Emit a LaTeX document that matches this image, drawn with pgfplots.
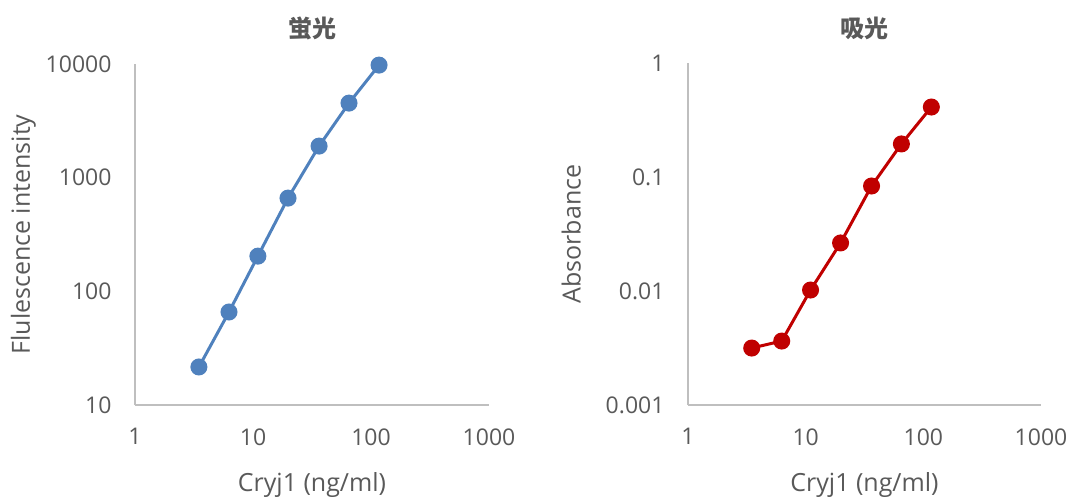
\documentclass[border=0pt]{standalone}
\usepackage{pgfplots}
\pgfplotsset{compat=1.18}
\usepackage{fontspec}
\setmainfont{Open Sans}
\newfontfamily\cjk{Noto Sans CJK JP}
\definecolor{txt}{HTML}{595959}
\definecolor{axl}{HTML}{BFBFBF}
\definecolor{blu}{HTML}{4F81BD}
\definecolor{rd}{HTML}{C00000}
\begin{document}
\begin{tikzpicture}
\useasboundingbox (0pt,0pt) rectangle (1069pt,499pt);
\begin{axis}[xmode=log, ymode=log,
    scale only axis,
    width=354pt, height=341pt,
    xmin=1, xmax=1000,
    axis x line*=bottom, axis y line*=left,
    axis line style={axl, line width=1.3pt},
    major tick length=0pt, minor tick length=0pt,
    minor tick style={draw=none}, major tick style={draw=none},
    xtick={1,10,100,1000},
    xticklabels={1,10,100,1000},
    tick label style={font=\fontsize{23}{26}\selectfont, text=txt},
    xticklabel style={yshift=-20pt},
    yticklabel style={xshift=-20pt},
    label style={font=\fontsize{25}{28}\selectfont, text=txt},
    title style={font=\cjk\bfseries\fontsize{24}{28}\selectfont, text=txt, yshift=14pt},
    xlabel={Cryj1 (ng/ml)},
    xlabel style={yshift=-20pt},
    ylabel style={yshift=3pt},
    clip=false,
  at={(135pt,94pt)}, anchor=south west,
  ymin=10, ymax=10000,
  ytick={10,100,1000,10000},
  yticklabels={10,100,1000,10000},
  ylabel={Flulescence intensity},
  title={蛍光}]
\addplot[blu, line width=3pt, mark=*, mark size=7pt, mark options={fill=blu, draw=blu}] coordinates {
(3.48,21.6) (6.26,65.8) (11.0,204) (19.8,661) (36.3,1897) (65.1,4530) (117,9780)};
\end{axis}
\begin{axis}[xmode=log, ymode=log,
    scale only axis,
    width=353pt, height=342pt,
    xmin=1, xmax=1000,
    axis x line*=bottom, axis y line*=left,
    axis line style={axl, line width=1.3pt},
    major tick length=0pt, minor tick length=0pt,
    minor tick style={draw=none}, major tick style={draw=none},
    xtick={1,10,100,1000},
    xticklabels={1,10,100,1000},
    tick label style={font=\fontsize{23}{26}\selectfont, text=txt},
    xticklabel style={yshift=-20pt},
    yticklabel style={xshift=-20pt},
    label style={font=\fontsize{25}{28}\selectfont, text=txt},
    title style={font=\cjk\bfseries\fontsize{24}{28}\selectfont, text=txt, yshift=14pt},
    xlabel={Cryj1 (ng/ml)},
    xlabel style={yshift=-20pt},
    ylabel style={yshift=18pt},
    clip=false,
  at={(688pt,94pt)}, anchor=south west,
  ymin=0.001, ymax=1,
  ytick={0.001,0.01,0.1,1},
  yticklabels={0.001,0.01,0.1,1},
  ylabel={Absorbance},
  title={吸光}]
\addplot[rd, line width=3pt, mark=*, mark size=7pt, mark options={fill=rd, draw=rd}] coordinates {
(3.48,0.00316) (6.26,0.00364) (11.0,0.0102) (19.8,0.0264) (36.3,0.0834) (65.1,0.195) (117,0.411)};
\end{axis}
\end{tikzpicture}
\end{document}
